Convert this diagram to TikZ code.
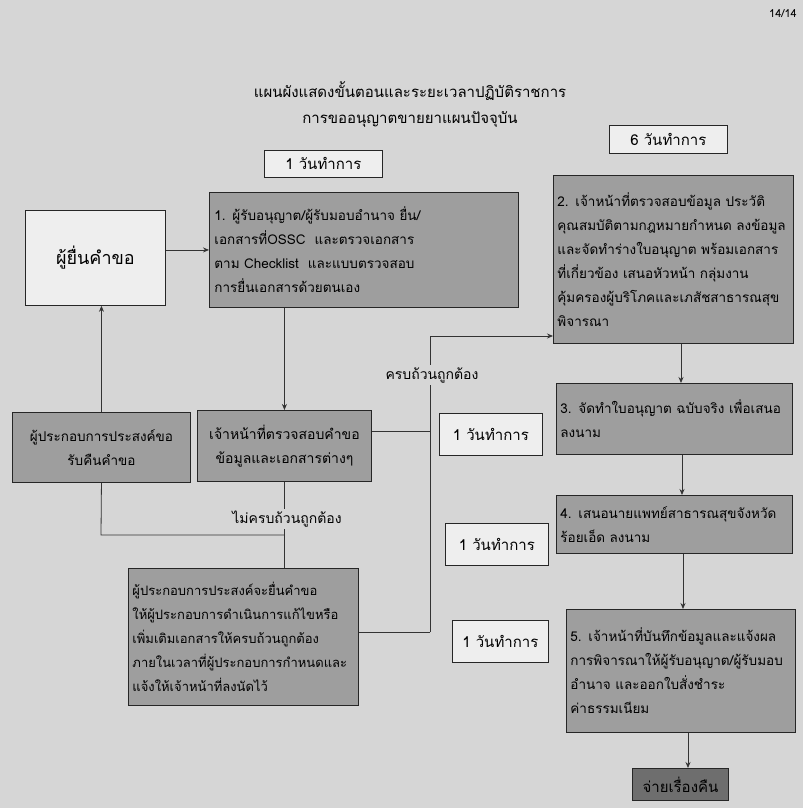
\documentclass[tikz,border=0pt]{standalone}
\usepackage{fontspec}
\setmainfont[Script=Thai]{Loma}
\usetikzlibrary{arrows.meta}
\definecolor{bg}{HTML}{D6D6D6}
\definecolor{boxgray}{HTML}{9E9E9E}
\definecolor{darkgray}{HTML}{6E6E6E}
\definecolor{lightbox}{HTML}{EEEEEE}
\tikzset{
  px/.style={x=1pt,y=-1pt},
  gbox/.style={draw=black!85, fill=boxgray, line width=0.9pt, align=left,
    font=\fontsize{13.5}{24}\selectfont, inner sep=4pt, anchor=north west},
  wbox/.style={draw=black!85, fill=lightbox, line width=0.8pt, align=center,
    font=\fontsize{15}{18}\selectfont, inner sep=2pt, anchor=north west},
  lbl/.style={font=\fontsize{14}{16}\selectfont, inner sep=2pt, fill=bg},
  conn/.style={draw=black!80, line width=0.8pt},
  arr/.style={conn, -{Stealth[length=6pt,width=5pt]}}
}
\begin{document}
\begin{tikzpicture}[px]
\fill[bg] (0,0) rectangle (803,808);
\useasboundingbox (0,0) rectangle (803,808);

\node[font=\fontsize{11}{14}\selectfont, inner sep=1pt, anchor=north east] (pg) at (798,8) {14/14};
\node[font=\fontsize{15}{26}\selectfont, align=center] (title) at (410,105)
  {แผนผังแสดงขั้นตอนและระยะเวลาปฏิบัติราชการ\\การขออนุญาตขายยาแผนปัจจุบัน};

% day boxes
\node[wbox, minimum width=118pt, minimum height=27pt] (d1) at (264,150) {1 วันทำการ};
\node[wbox, minimum width=118pt, minimum height=28pt] (d6) at (609,125) {6 วันทำการ};
\node[wbox, minimum width=103pt, minimum height=42pt] (d1a) at (439,413) {1 วันทำการ};
\node[wbox, minimum width=103pt, minimum height=42pt] (d1b) at (445,523) {1 วันทำการ};
\node[wbox, minimum width=96pt, minimum height=42pt] (d1c) at (452,620) {1 วันทำการ};

% left column
\node[wbox, minimum width=140pt, minimum height=95pt, font=\fontsize{18}{20}\selectfont] (ask) at (25,210) {ผู้ยื่นคำขอ};
\node[gbox, minimum width=309pt, minimum height=115pt, text width=299pt] (b1) at (209,192)
  {1. ผู้รับอนุญาต/ผู้รับมอบอำนาจ ยื่น/\\เอกสารที่OSSC\ \ และตรวจเอกสาร\\ตาม Checklist\ \ และแบบตรวจสอบ\\การยื่นเอกสารด้วยตนเอง};
\node[gbox, minimum width=178pt, minimum height=70pt, align=center, text width=170pt] (ret) at (12,412)
  {ผู้ประกอบการประสงค์ขอ\\รับคืนคำขอ};
\node[gbox, minimum width=174pt, minimum height=71pt, align=center, text width=166pt, font=\fontsize{14}{24}\selectfont] (chk) at (197,410)
  {เจ้าหน้าที่ตรวจสอบคำขอ\\ข้อมูลและเอกสารต่างๆ};
\node[gbox, minimum width=230pt, minimum height=137pt, text width=222pt, font=\fontsize{13}{24}\selectfont] (fix) at (128,568)
  {ผู้ประกอบการประสงค์จะยื่นคำขอ\\ให้ผู้ประกอบการดำเนินการแก้ไขหรือ\\เพิ่มเติมเอกสารให้ครบถ้วนถูกต้อง\\ภายในเวลาที่ผู้ประกอบการกำหนดและ\\แจ้งให้เจ้าหน้าที่ลงนัดไว้};

% right column
\node[gbox, minimum width=240pt, minimum height=168pt, text width=232pt] (b2) at (553,175)
  {2. เจ้าหน้าที่ตรวจสอบข้อมูล ประวัติ\\คุณสมบัติตามกฎหมายกำหนด ลงข้อมูล\\และจัดทำร่างใบอนุญาต พร้อมเอกสาร\\ที่เกี่ยวข้อง เสนอหัวหน้า กลุ่มงาน\\คุ้มครองผู้บริโภคและเภสัชสาธารณสุข\\พิจารณา};
\node[gbox, minimum width=236pt, minimum height=71pt, text width=228pt] (b3) at (556,383)
  {3. จัดทำใบอนุญาต ฉบับจริง เพื่อเสนอ\\ลงนาม};
\node[gbox, minimum width=236pt, minimum height=58pt, text width=228pt] (b4) at (556,495)
  {4. เสนอนายแพทย์สาธารณสุขจังหวัด\\ร้อยเอ็ด ลงนาม};
\node[gbox, minimum width=229pt, minimum height=123pt, text width=221pt] (b5) at (566,609)
  {5. เจ้าหน้าที่บันทึกข้อมูลและแจ้งผล\\การพิจารณาให้ผู้รับอนุญาต/ผู้รับมอบ\\อำนาจ และออกใบสั่งชำระ\\ค่าธรรมเนียม};
\node[gbox, fill=darkgray, minimum width=96pt, minimum height=32pt, align=center, font=\fontsize{15}{18}\selectfont] (done) at (632,768) {จ่ายเรื่องคืน};

% junctions
\coordinate (j0) at (430,336);
\coordinate (j1) at (430,431);
\coordinate (j2) at (430,632);
\coordinate (j3) at (101,535);

% connectors
\draw[arr] (ask.east |- b1.west) -- (b1.west);
\draw[arr] (chk.north |- b1.south) -- (chk.north);
\draw[conn] (chk.east |- j1) -- (j1);
\draw[conn] (j2) -- (j0);
\draw[arr] (j0) -- (j0 -| b2.west);
\draw[conn] (fix.east |- j2) -- (j2);
\draw[conn] (chk.south) -- (chk.south |- fix.north);
\draw[conn] (ret.south) -- (j3) -- (j3 -| chk.south);
\draw[arr] (ret.north) -- (ret.north |- ask.south);
\draw[arr] (b2.south -| 681,0) -- (b3.north -| 681,0);
\draw[arr] (b3.south -| 682,0) -- (b4.north -| 682,0);
\draw[arr] (b4.south -| 683,0) -- (b5.north -| 683,0);
\draw[arr] (b5.south -| 688,0) -- (done.north -| 688,0);

% labels (drawn over the lines)
\node[lbl] (ok) at (432,375) {ครบถ้วนถูกต้อง};
\node[lbl] (nok) at (287,519) {ไม่ครบถ้วนถูกต้อง};
\end{tikzpicture}
\end{document}
